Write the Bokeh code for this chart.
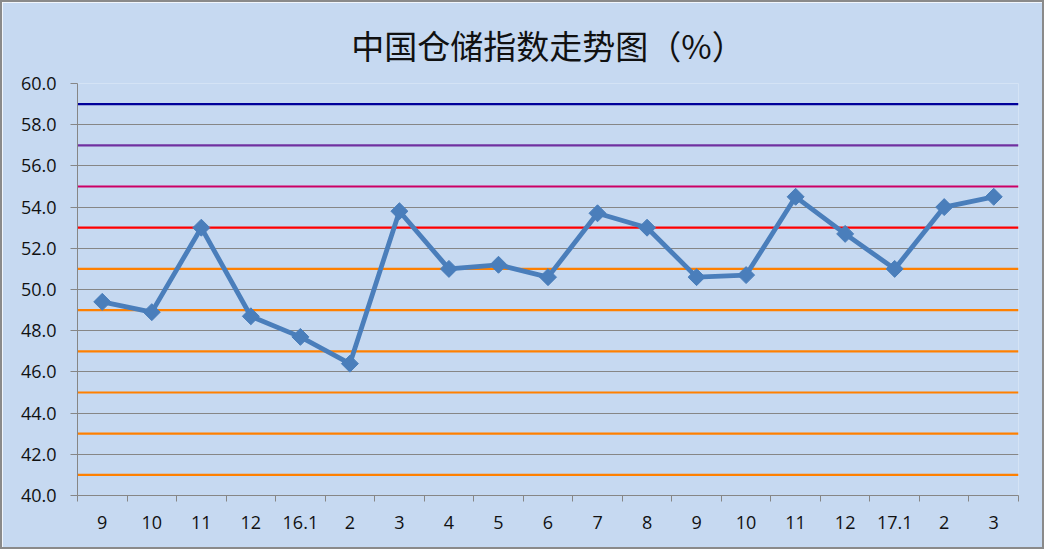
import math
from bokeh.plotting import figure
from bokeh.models import FixedTicker, Span, ColumnDataSource, Range1d
from bokeh.embed import file_html
from bokeh.resources import INLINE

# ---- data ----
months = ["9", "10", "11", "12", "16.1", "2", "3", "4", "5", "6", "7", "8",
          "9", "10", "11", "12", "17.1", "2", "3"]
index_values = [49.4, 48.9, 53.0, 48.7, 47.7, 46.4, 53.8, 51.0, 51.2, 50.6,
                53.7, 53.0, 50.6, 50.7, 54.5, 52.7, 51.0, 54.0, 54.5]
ref_levels = [59, 57, 55, 53, 51, 49, 47, 45, 43, 41]
ref_colors = ["#00009A", "#7030A0", "#CC0066", "#FF0000", "#FF8000",
              "#FF8000", "#FF8000", "#FF8000", "#FF8000", "#FF8000"]
y_ticks = list(range(40, 61, 2))

BG = "#C6D9F1"
GRAY = "#868686"

xs = list(range(len(months)))
src = ColumnDataSource(dict(x=xs, y=index_values, label=months))

p = figure(width=1044, height=549, output_backend="svg", toolbar_location=None,
           x_range=Range1d(-0.5, len(months) - 0.5), y_range=Range1d(40, 60),
           min_border_left=75, min_border_right=28, min_border_top=81,
           min_border_bottom=56,
           background_fill_color=BG, border_fill_color=BG,
           outline_line_color=None,
           title="中国仓储指数走势图（%）")
p.styles = {"border": "2px solid #8A8A8A", "box-sizing": "border-box"}

p.title.text_font = "Noto Sans CJK SC"
p.title.text_font_size = "33px"
p.title.text_font_style = "normal"
p.title.text_color = "#111111"
p.title.align = "center"
p.title.offset = -9
p.title.standoff = 30

# grid
p.xgrid.grid_line_color = None
p.ygrid.ticker = FixedTicker(ticks=y_ticks)
p.ygrid.grid_line_color = GRAY
p.ygrid.grid_line_width = 1

# reference lines
for lvl, col in zip(ref_levels, ref_colors):
    p.add_layout(Span(location=lvl, dimension="width", line_color=col,
                      line_width=2.2, level="underlay"))

# y axis
p.yaxis.ticker = FixedTicker(ticks=y_ticks)
p.yaxis.major_label_overrides = {t: f"{t:.1f}" for t in y_ticks}
p.yaxis.axis_line_color = GRAY
p.yaxis.major_tick_line_color = GRAY
p.yaxis.major_tick_out = 7
p.yaxis.major_tick_in = 0
p.yaxis.minor_tick_line_color = None
p.yaxis.major_label_text_font = "Open Sans"
p.yaxis.major_label_text_font_size = "18px"
p.yaxis.major_label_text_color = "#111111"
p.yaxis.major_label_standoff = 14

# x axis: labels at centers, ticks at boundaries (minor ticks)
bounds = [i - 0.5 for i in range(len(months) + 1)]
p.xaxis.ticker = FixedTicker(ticks=xs, minor_ticks=bounds)
p.xaxis.major_label_overrides = {i: m for i, m in enumerate(months)}
p.xaxis.axis_line_color = GRAY
p.xaxis.major_tick_line_color = None
p.xaxis.minor_tick_line_color = GRAY
p.xaxis.minor_tick_out = 6
p.xaxis.minor_tick_in = 0
p.xaxis.major_tick_out = 6
p.xaxis.major_label_text_font = "Open Sans"
p.xaxis.major_label_text_font_size = "18px"
p.xaxis.major_label_text_color = "#111111"
p.xaxis.major_label_standoff = 14

# series
p.line("x", "y", source=src, line_color="#4A7EBB", line_width=4.8)
p.scatter("x", "y", source=src, marker="square", size=12, angle=math.pi / 4,
          fill_color="#4A7EBB", line_color="#4A7EBB")

open("out.html", "w").write(file_html(p, INLINE))
